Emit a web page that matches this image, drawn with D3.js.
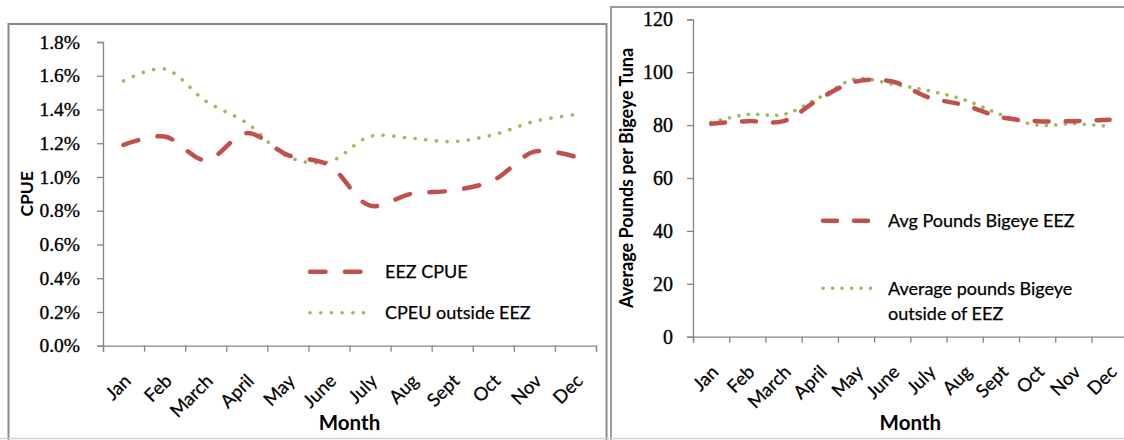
<!DOCTYPE html>
<html>
<head>
<meta charset="utf-8">
<script src="https://cdn.jsdelivr.net/npm/d3@7"></script>
<style>
  html, body { margin: 0; padding: 0; background: #fff; }
  svg { display: block; }
  .tick-y { font-family: "Liberation Serif", serif; fill: #000; stroke: #000; stroke-width: 0.35px; }
  .sans { font-family: Lato, "Open Sans", sans-serif; fill: #000; }
  .soft { stroke: #000; stroke-width: 0.25px; }
</style>
</head>
<body>
<svg id="chart" width="1124" height="440"></svg>
<script>
// Months along both x axes
const months = ["Jan", "Feb", "March", "April", "May", "June", "July", "Aug", "Sept", "Oct", "Nov", "Dec"];

// Catch per unit effort (fraction)
const cpueEEZ     = [0.0119, 0.0124, 0.0110, 0.0126, 0.0113, 0.0107, 0.0083, 0.0090, 0.0092, 0.0098, 0.0115, 0.0112];
const cpueOutside = [0.0157, 0.0164, 0.0145, 0.0132, 0.0112, 0.0109, 0.0124, 0.0123, 0.0121, 0.0125, 0.0133, 0.0137];
const cpueTicks   = [0, 0.002, 0.004, 0.006, 0.008, 0.010, 0.012, 0.014, 0.016, 0.018];

// Average pounds per bigeye tuna
const lbsEEZ     = [80.5, 81.5, 81.5, 90, 96.5, 96.5, 90.5, 87.5, 83, 81.5, 81.5, 82];
const lbsOutside = [81, 84, 84, 90.5, 97.5, 95.5, 93, 89.5, 84, 80, 80.5, 79.5];
const lbsTicks   = [0, 20, 40, 60, 80, 100, 120];

// Legend labels
const cpueLegend = ["EEZ CPUE", "CPEU outside EEZ"];
const lbsLegend  = [["Avg Pounds Bigeye EEZ"], ["Average pounds Bigeye", "outside of EEZ"]];

const RED = "#c0504d", GREEN = "#9bbb59", AXIS = "#868686";

const svg = d3.select("#chart");

// Chart frames
function frame(x0, y0, x1, y1, color) {
  svg.append("path")
    .attr("d", `M${x0},${y1} V${y0} H${x1} V${y1}`)
    .attr("fill", "none").attr("stroke", color).attr("stroke-width", 2);
}
frame(8.5, 24, 606.5, 440, "#8a8a8a");
frame(611, 7, 1130, 440, "#9c9c9c");
svg.append("line").attr("x1", 0).attr("x2", 1124).attr("y1", 438.5).attr("y2", 438.5)
  .attr("stroke", "#d4d4d4").attr("stroke-width", 1.5);

function drawPanel(opt) {
  const g = svg.append("g");
  const x = d3.scaleBand().domain(months).range([opt.x0, opt.x1]);
  const xt = d3.scaleLinear().domain([0, months.length]).range([opt.x0, opt.x1]);
  const y = d3.scaleLinear().domain([0, opt.yMax]).range([opt.yBottom, opt.yTop]);
  const cx = m => x(m) + x.bandwidth() / 2;

  // y axis
  const ya = g.append("g").attr("transform", `translate(${opt.x0},0)`)
    .call(d3.axisLeft(y).tickValues(opt.ticks).tickSize(6).tickPadding(opt.yPad).tickFormat(opt.fmt));
  ya.select(".domain").attr("stroke", AXIS).attr("stroke-width", 1.3);
  ya.selectAll(".tick line").attr("stroke", AXIS).attr("stroke-width", 1.3);
  ya.selectAll(".tick text").attr("class", "tick-y").style("font-size", opt.yFont + "px")
    .attr("font-family", null);

  // x axis: ticks at category boundaries
  const xa = g.append("g").attr("transform", `translate(0,${opt.yBottom})`)
    .call(d3.axisBottom(xt).tickValues(d3.range(months.length + 1)).tickSize(6).tickFormat(""));
  xa.select(".domain").attr("stroke", AXIS).attr("stroke-width", 1.3);
  xa.selectAll(".tick line").attr("stroke", AXIS).attr("stroke-width", 1.3);

  // rotated month labels
  g.selectAll(".mlab").data(months).enter().append("text")
    .attr("class", "sans soft")
    .attr("transform", m => `translate(${cx(m) - 1},${opt.yBottom + 27}) rotate(-45)`)
    .attr("text-anchor", "end").attr("dy", "0.72em")
    .style("font-size", "18.5px")
    .text(m => m);

  // axis titles
  g.append("text").attr("class", "sans")
    .attr("x", (opt.x0 + opt.x1) / 2).attr("y", 430)
    .attr("text-anchor", "middle").style("font-size", "20.5px").style("font-weight", "bold")
    .text("Month");
  g.append("text").attr("class", "sans")
    .attr("transform", `translate(${opt.titleX},${(opt.yTop + opt.yBottom) / 2}) rotate(-90)`)
    .attr("text-anchor", "middle").style("font-size", opt.titleFont + "px").style("font-weight", "bold")
    .text(opt.title);

  const line = d3.line().x((d, i) => cx(months[i])).y(d => y(d)).curve(d3.curveCatmullRom.alpha(0.5));

  // series
  g.append("path").datum(opt.s2).attr("d", line).attr("fill", "none")
    .attr("stroke", GREEN).attr("stroke-width", 3.6).attr("stroke-linecap", "round")
    .attr("stroke-dasharray", opt.dot);
  g.append("path").datum(opt.s1).attr("d", line).attr("fill", "none")
    .attr("stroke", RED).attr("stroke-width", 4.5).attr("stroke-linecap", "round")
    .attr("stroke-dasharray", opt.dash);

  // legend
  const L = opt.legend;
  g.append("line").attr("x1", L.x).attr("x2", L.x + L.redLen).attr("y1", L.y1).attr("y2", L.y1)
    .attr("stroke", RED).attr("stroke-width", 4.5).attr("stroke-linecap", "round").attr("stroke-dasharray", opt.dash);
  g.append("line").attr("x1", L.x).attr("x2", L.x + L.greenLen).attr("y1", L.y2).attr("y2", L.y2)
    .attr("stroke", GREEN).attr("stroke-width", 3.6).attr("stroke-linecap", "round").attr("stroke-dasharray", opt.dot);
  [L.y1, L.y2].forEach((yy, k) => {
    const lines = [].concat(opt.labels[k]);
    const t = g.append("text").attr("class", "sans soft").attr("x", L.tx).attr("y", yy + 6.5)
      .style("font-size", L.font + "px");
    lines.forEach((s, j) => t.append("tspan").attr("x", L.tx).attr("dy", j ? L.lineGap : 0).text(s));
  });
}

drawPanel({
  x0: 103, x1: 596, yTop: 42, yBottom: 345.7, yMax: 0.018, ticks: cpueTicks,
  fmt: d3.format(".1%"), yPad: 17, yFont: 19.5,
  title: "CPUE", titleX: 33, titleFont: 17.5,
  s1: cpueEEZ, s2: cpueOutside,
  dash: "15.5 19.5", dot: "0.1 10.6",
  labels: cpueLegend,
  legend: { x: 310, redLen: 52, greenLen: 62, y1: 271.7, y2: 312.7, tx: 385, font: 18, lineGap: 25 }
});

drawPanel({
  x0: 693, x1: 1127.7, yTop: 19.3, yBottom: 336.7, yMax: 120, ticks: lbsTicks,
  fmt: d3.format("d"), yPad: 14, yFont: 20,
  title: "Average Pounds per Bigeye Tuna", titleX: 633, titleFont: 18,
  s1: lbsEEZ, s2: lbsOutside,
  dash: "14 17", dot: "0.1 9.4",
  labels: lbsLegend,
  legend: { x: 823, redLen: 45, greenLen: 55, y1: 220.7, y2: 288.3, tx: 888, font: 18, lineGap: 25 }
});
</script>
</body>
</html>
